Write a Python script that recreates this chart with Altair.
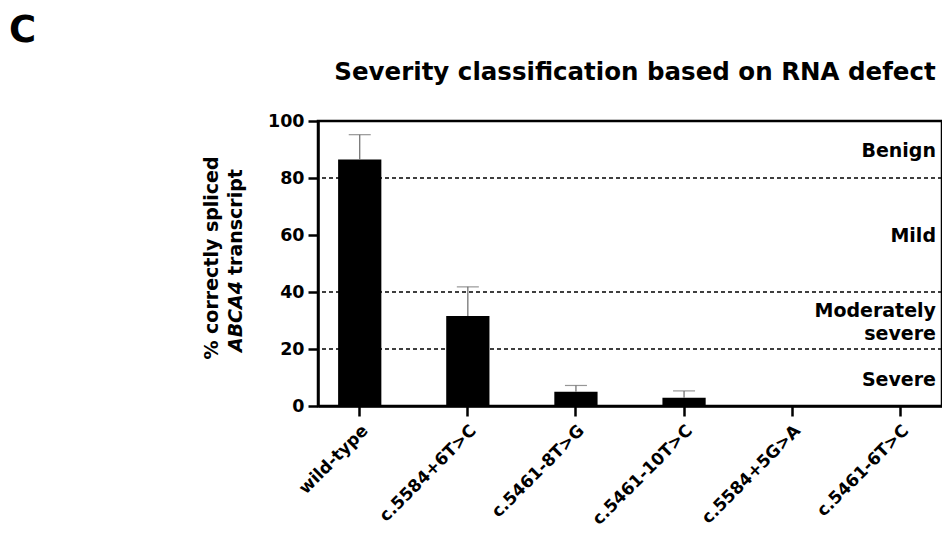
import altair as alt
import pandas as pd

FONT = "DejaVu Sans"

# ---- data ----
variants = ["wild-type", "c.5584+6T>C", "c.5461-8T>G", "c.5461-10T>C", "c.5584+5G>A", "c.5461-6T>C"]
means = [86.5, 31.6, 5.0, 2.9, 0.0, 0.0]
sds = [8.7, 10.2, 2.2, 2.4, None, None]

thresholds = [20, 40, 80]
class_labels = ["Benign", "Mild", "Moderately\nsevere", "Severe"]
class_pos = [89.6, 59.8, 33.3, 9.1]

y_ticks = [0, 20, 40, 60, 80, 100]

df = pd.DataFrame({"variant": variants, "mean": means, "sd": sds})
df_err = df.dropna().copy()
df_err["upper"] = df_err["mean"] + df_err["sd"]
df_thr = pd.DataFrame({"t": thresholds})
df_cls = pd.DataFrame({"label": class_labels, "pos": class_pos})
one = pd.DataFrame({"a": [0]})

W, H = 624, 285

xenc = alt.X("variant:N", sort=variants,
             scale=alt.Scale(paddingInner=0.6, paddingOuter=0.186),
             axis=alt.Axis(title=None, labelAngle=-45, labelFontSize=17, labelFontWeight="bold",
                           labelFont=FONT, labelColor="black", tickSize=10, tickWidth=2.5,
                           tickColor="black", domainColor="black", domainWidth=2.5,
                           labelPadding=6))
yscale = alt.Scale(domain=[0, 100], nice=False)
yaxis = alt.Axis(title=None, values=y_ticks, labelFontSize=17.5, labelFontWeight="bold",
                 labelFont=FONT, labelColor="black", tickSize=10, tickWidth=2.5,
                 tickColor="black", domainColor="black", domainWidth=2.5, grid=False,
                 labelPadding=4)

bars = alt.Chart(df).mark_bar(color="black").encode(
    x=xenc,
    y=alt.Y("mean:Q", scale=yscale, axis=yaxis),
)

err_rule = alt.Chart(df_err).mark_rule(color="#6a6a6a", strokeWidth=1.2).encode(
    x=alt.X("variant:N", sort=variants),
    y="mean:Q",
    y2="upper:Q",
)

err_cap = alt.Chart(df_err).mark_tick(color="#6a6a6a", thickness=1.2, size=22).encode(
    x=alt.X("variant:N", sort=variants),
    y="upper:Q",
)

dashes = alt.Chart(df_thr).mark_rule(color="#000000", strokeWidth=1.3, strokeDash=[4, 3]).encode(
    y="t:Q"
)

cls = alt.Chart(df_cls).mark_text(align="right", baseline="middle", fontSize=19, fontWeight="bold",
                                  font=FONT, color="black", lineBreak="\n", lineHeight=23).encode(
    x=alt.value(W - 6),
    y="pos:Q",
    text="label:N",
)

title = alt.Chart(one).mark_text(text="Severity classification based on RNA defect", align="center",
                                 baseline="alphabetic", fontSize=24.5, fontWeight="bold",
                                 font=FONT, color="black").encode(
    x=alt.value(W / 2 + 5), y=alt.value(-41))

panel = alt.Chart(one).mark_text(text="C", align="left", baseline="alphabetic", fontSize=37,
                                 fontWeight="bold", font=FONT, color="black").encode(
    x=alt.value(-309), y=alt.value(-79))

ytitle1 = alt.Chart(one).mark_text(text="% correctly spliced", angle=270, align="center",
                                   baseline="middle", fontSize=19, fontWeight="bold",
                                   font=FONT, color="black").encode(
    x=alt.value(-106), y=alt.value(137))

ytitle2a = alt.Chart(one).mark_text(text="ABCA4", angle=270, align="right",
                                    baseline="middle", fontSize=19, fontWeight="bold",
                                    fontStyle="italic", font=FONT, color="black").encode(
    x=alt.value(-82), y=alt.value(160))

ytitle2b = alt.Chart(one).mark_text(text="transcript", angle=270, align="left",
                                    baseline="middle", fontSize=19, fontWeight="bold",
                                    font=FONT, color="black").encode(
    x=alt.value(-82), y=alt.value(154))

chart = alt.layer(dashes, bars, err_rule, err_cap, cls, title, panel, ytitle1, ytitle2a, ytitle2b).properties(
    width=W, height=H,
    padding={"left": 310, "top": 113, "right": 0, "bottom": 122},
    autosize=alt.AutoSizeParams(type="none"),
).configure_view(stroke="black", strokeWidth=2.5)

chart.save("out.html", embed_options={"renderer": "svg", "actions": False})
